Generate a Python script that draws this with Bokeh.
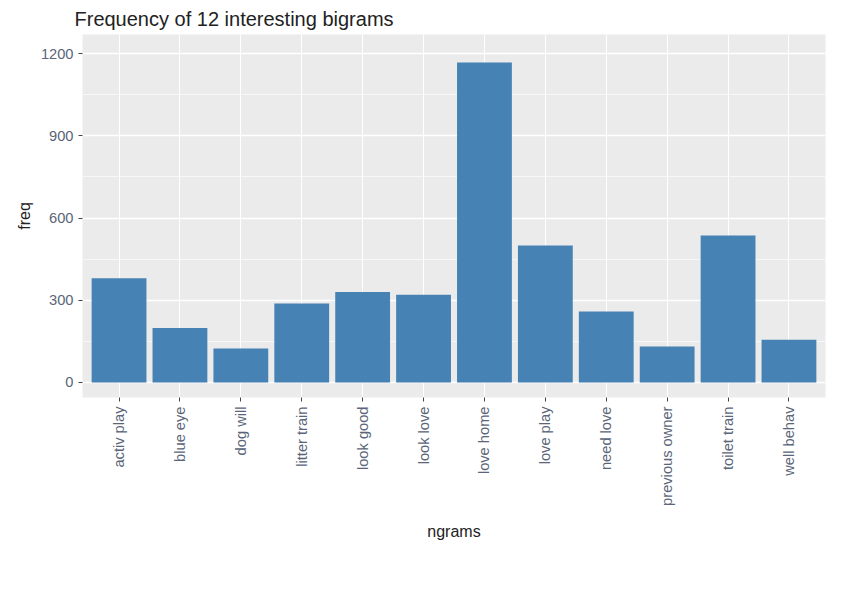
import math
from bokeh.models import ColumnDataSource, FactorRange, Range1d, SingleIntervalTicker
from bokeh.plotting import figure
from bokeh.embed import file_html
from bokeh.resources import INLINE

# bigram counts
ngrams = ["activ play", "blue eye", "dog will", "litter train", "look good", "look love",
          "love home", "love play", "need love", "previous owner", "toilet train", "well behav"]
freq = [380, 199, 124, 288, 330, 320, 1168, 500, 259, 131, 536, 156]

source = ColumnDataSource(data=dict(x=ngrams, y=freq))

p = figure(x_range=FactorRange(*ngrams, range_padding=0.1, range_padding_units="absolute"),
           y_range=Range1d(-55, 1270), width=836, height=586,
           output_backend="svg", toolbar_location=None,
           title="Frequency of 12 interesting bigrams",
           x_axis_label="ngrams", y_axis_label="freq",
           min_border_left=82, min_border_right=11, min_border_top=24, min_border_bottom=189)

p.vbar(x="x", top="y", width=0.9, source=source, fill_color="#4682B4", line_color=None)

p.background_fill_color = "#EBEBEB"
p.outline_line_color = None
p.title.text_font = "Liberation Sans"
p.title.text_font_size = "15pt"
p.title.text_font_style = "normal"
p.title.text_color = "#222222"
p.title.offset = -8

p.yaxis.ticker = SingleIntervalTicker(interval=300, num_minor_ticks=2)
p.xgrid.grid_line_color = "white"
p.ygrid.grid_line_color = "white"
p.ygrid.grid_line_width = 1.3
p.ygrid.minor_grid_line_color = "white"
p.ygrid.minor_grid_line_alpha = 0.6

for ax in (p.xaxis, p.yaxis):
    ax.axis_line_color = None
    ax.major_tick_line_color = "#444444"
    ax.minor_tick_line_color = None
    ax.major_tick_in = 0
    ax.major_tick_out = 4
    ax.major_label_text_color = "#5a6578"
    ax.major_label_text_font = "Liberation Sans"
    ax.major_label_text_font_size = "11pt"
    ax.axis_label_text_font = "Liberation Sans"
    ax.axis_label_text_font_size = "12pt"
    ax.axis_label_text_font_style = "normal"
    ax.axis_label_text_color = "#222222"

p.xaxis.major_label_orientation = math.pi / 2
p.xaxis.axis_label_standoff = 14

open("out.html", "w").write(file_html(p, INLINE))
